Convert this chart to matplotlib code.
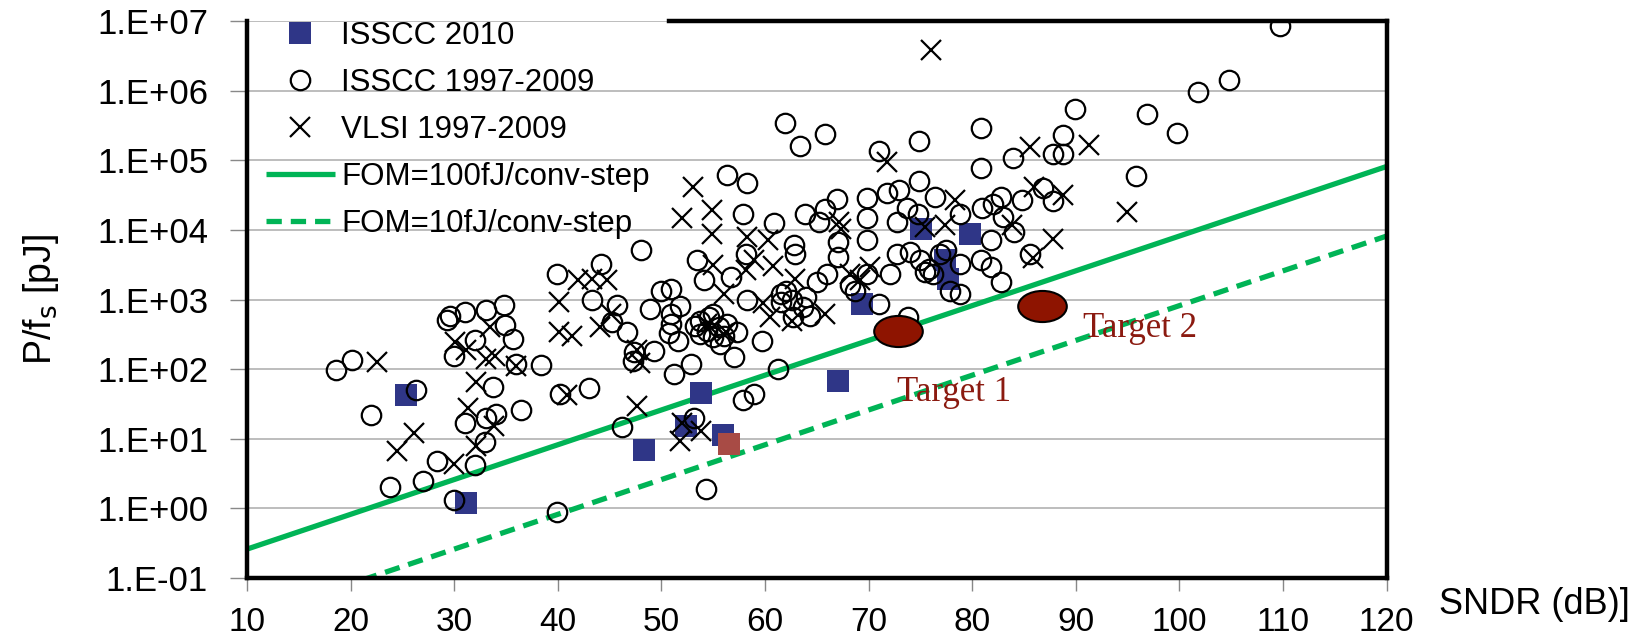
import numpy as np
import matplotlib
matplotlib.use("Agg")
import matplotlib.pyplot as plt
from matplotlib.path import Path
from matplotlib.transforms import Affine2D

plt.rcParams["font.family"] = ["Liberation Sans", "DejaVu Sans"]

# ── Data ──────────────────────────────────────────────────────────────────────
ISSCC2010_SNDR = [25.3, 31.1, 48.3, 53.8, 52.4, 55.9, 67.0, 69.4, 75.1, 79.8, 77.4, 77.7]
ISSCC2010_PFS = [43, 1.18, 6.9, 45, 15.4, 11.4, 68, 870, 10500, 8900, 3700, 2000]

HIGHLIGHT_SNDR = [56.5]
HIGHLIGHT_PFS = [8.4]

ISSCC_OLD_SNDR = [
    18.6, 20.1, 22.0, 23.8, 26.3, 27.0, 28.3, 29.3, 29.6, 30.0, 30.0, 31.0, 31.0,
    32.0, 32.0, 33.0, 33.1, 33.1, 33.7, 34.0, 34.8, 34.9, 35.7, 36.0, 36.4, 38.4,
    39.9, 39.9, 40.2, 43.0, 43.3, 44.2, 45.2, 45.7, 46.2, 46.7, 47.3, 47.4, 49.3,
    48.0, 48.9, 50.0, 50.9, 50.9, 50.9, 50.7, 51.8, 51.6, 52.9, 51.2, 53.1, 53.4,
    54.1, 53.7, 53.7, 54.4, 55.0, 55.0, 55.7, 56.7, 56.3, 57.0, 57.3, 57.9, 58.3,
    59.7, 56.3, 58.3, 54.3, 57.9, 58.9, 58.2, 61.3, 54.6, 55.6, 56.0, 53.2,
    61.9, 63.4, 65.8, 71.0, 74.9, 80.8, 80.8, 83.9, 88.8, 87.8, 88.8, 89.9, 96.9,
    99.8, 95.8, 101.8, 104.8, 109.7,
    60.9, 62.8, 63.9, 65.8, 66.9, 65.2, 67.0, 67.0, 69.8, 69.8, 69.8, 71.8, 72.9,
    74.9, 73.7, 72.7, 74.8, 76.4, 78.8, 80.9, 82.0, 82.8, 84.8, 86.8, 87.8, 83.0,
    84.0, 81.8, 80.8, 81.8, 82.8, 85.6, 78.8, 76.9, 75.8, 78.8, 72.1, 72.7, 74.0,
    69.8, 68.2, 65.0, 62.9, 61.5,
    66.0, 64.0, 62.0, 61.5, 62.6, 63.7, 62.7, 64.3, 68.7, 71.0, 73.8, 75.0, 75.4,
    76.2, 77.5, 77.9,
]
ISSCC_OLD_PFS = [
    97, 135, 22, 2.0, 51, 2.5, 4.8, 515, 575, 157, 1.3, 660, 17,
    265, 4.2, 9.0, 700, 20, 55, 23, 830, 430, 275, 117, 26, 115,
    0.9, 2350, 44, 53, 980, 3300, 475, 830, 14.8, 340, 130, 175, 183,
    5100, 740, 1350, 1440, 630, 450, 330, 800, 258, 120, 84, 20, 3700,
    1900, 500, 320, 360, 630, 290, 230, 2130, 450, 150, 340, 17000, 980,
    258, 62000, 47000, 1.9, 36, 44, 4600, 100, 560, 400, 300, 420,
    3.4e5, 1.6e5, 2.4e5, 1.35e5, 1.9e5, 2.9e5, 7.9e4, 1.1e5, 2.3e5, 1.24e5, 1.24e5, 5.5e5, 4.7e5,
    2.5e5, 5.9e4, 9.5e5, 1.45e6, 8.5e6,
    12500, 6000, 17000, 20000, 27500, 13000, 6700, 4100, 29000, 15000, 7100, 34000, 38000,
    50000, 21000, 13000, 17000, 30000, 17000, 21000, 24000, 30000, 27000, 40000, 26000, 15500,
    9300, 7100, 3700, 2950, 1800, 4600, 3300, 4600, 2800, 1200, 2350, 4600, 4900,
    2350, 1600, 1800, 4600, 1200,
    2350, 1100, 1350, 920, 980, 780, 560, 590, 1350, 870, 560, 3700, 2500,
    2350, 5100, 1350,
]

VLSI_SNDR = [
    22.5, 26.1, 24.5, 30.0, 32.1, 31.3, 33.8, 32.1, 40.9, 47.6, 51.8, 52.0, 53.8,
    47.6, 47.9, 53.0, 52.0, 54.9, 54.9, 55.0, 40.1, 40.1, 41.4, 41.9, 43.3, 44.7,
    44.1, 45.1, 30.1, 31.1, 33.5, 33.1, 33.9, 36.0, 56.0, 58.9, 58.3, 59.8, 54.4,
    56.2, 58.2, 60.3, 60.8, 62.9, 60.5, 62.6, 65.8, 67.1, 67.3, 68.2, 70.1, 69.2,
    71.8, 75.4, 77.4, 78.3, 83.8, 85.6, 91.3, 94.9, 88.8, 86.0, 87.8, 85.9, 76.0,
]
VLSI_PFS = [
    125, 12.3, 6.7, 4.3, 65, 28, 15.4, 7.9, 42, 30, 9.3, 17, 13,
    186, 122, 42000, 14700, 19400, 8900, 3100, 920, 340, 305, 1900, 2000, 1900,
    400, 620, 245, 186, 400, 141, 157, 113, 1200, 3700, 8000, 900, 450,
    340, 2650, 7100, 3000, 1950, 560, 500, 630, 13000, 10500, 2350, 2950, 1900,
    96000, 11000, 12000, 27000, 12000, 158000, 166000, 18000, 32000, 41000, 7500, 4000, 3.9e6,
]

# FOM reference lines, end points read at the plot edges
FOM100_SNDR = [10, 120]
FOM100_PFS = [0.26, 8.2e4]
FOM10_SNDR = [10, 120]
FOM10_PFS = [0.026, 8.2e3]

TARGET_SNDR = [72.8, 86.7]
TARGET_PFS = [360, 800]
TARGET_LABELS = ["Target 1", "Target 2"]
TARGET_LABEL_POS = [(78.2, 46), (96.2, 385)]

Y_TICKS = [1e-1, 1e0, 1e1, 1e2, 1e3, 1e4, 1e5, 1e6, 1e7]
Y_TICK_LABELS = ["1.E-01", "1.E+00", "1.E+01", "1.E+02", "1.E+03",
                 "1.E+04", "1.E+05", "1.E+06", "1.E+07"]
X_TICKS = [10, 20, 30, 40, 50, 60, 70, 80, 90, 100, 110, 120]

GREEN = "#00B456"
NAVY = "#2F3687"
BRICK = "#A84B45"
DARKRED = "#8E1400"

# ellipse marker for targets
ELLIPSE = Path.unit_circle().transformed(Affine2D().scale(1.0, 0.64))

# ── Figure ────────────────────────────────────────────────────────────────────
fig = plt.figure(figsize=(16.5, 6.41), dpi=100)
ax = fig.add_axes([0.1497, 0.0983, 0.6907, 0.8685])
ax.set_yscale("log")
ax.set_xlim(10, 120)
ax.set_ylim(1e-1, 1e7)

l100, = ax.plot(FOM100_SNDR, FOM100_PFS, color=GREEN, lw=3.8, zorder=2,
                solid_capstyle="butt", label="FOM=100fJ/conv-step")
l10, = ax.plot(FOM10_SNDR, FOM10_PFS, color=GREEN, lw=3.8, zorder=2,
               dashes=(2.9, 1.7), label="FOM=10fJ/conv-step")

sq, = ax.plot(ISSCC2010_SNDR, ISSCC2010_PFS, ls="none", marker="s", ms=16.5,
              mfc=NAVY, mec=NAVY, mew=0, zorder=3, label="ISSCC 2010")
ci, = ax.plot(ISSCC_OLD_SNDR, ISSCC_OLD_PFS, ls="none", marker="o", ms=14,
              mfc="none", mec="black", mew=1.6, zorder=4, label="ISSCC 1997-2009")
cr, = ax.plot(VLSI_SNDR, VLSI_PFS, ls="none", marker="x", ms=14,
              mec="black", mew=1.6, zorder=4, label="VLSI 1997-2009")
ax.plot(HIGHLIGHT_SNDR, HIGHLIGHT_PFS, ls="none", marker="s", ms=16.5,
        mfc=BRICK, mec=BRICK, mew=0, zorder=5)

ax.plot(TARGET_SNDR, TARGET_PFS, ls="none", marker=ELLIPSE, ms=35,
        mfc=DARKRED, mec="black", mew=1.5, zorder=6)
for lbl, (tx, ty) in zip(TARGET_LABELS, TARGET_LABEL_POS):
    ax.text(tx, ty, lbl, ha="center", va="center", fontsize=25,
            family=["Liberation Serif", "DejaVu Serif"], color="#8B1A10", zorder=7)

# grid, ticks, spines
ax.yaxis.grid(True, color="#B8B8B8", lw=1.3, zorder=0)
ax.set_axisbelow(True)
ax.set_yticks(Y_TICKS)
ax.set_yticklabels(Y_TICK_LABELS)
ax.minorticks_off()
ax.set_xticks(X_TICKS)
ax.tick_params(axis="y", direction="out", length=12, width=1, color="#888888",
               labelsize=25, pad=16)
ax.tick_params(axis="x", direction="out", length=9, width=1, color="#888888",
               labelsize=24, pad=12)

for side in ("left", "bottom", "right"):
    ax.spines[side].set_linewidth(3.2)
    ax.spines[side].set_color("black")
ax.spines["top"].set_visible(False)
ax.axhline(1e7, xmin=0.37, xmax=1.0, color="black", lw=3.2, clip_on=False,
           zorder=2.5, solid_capstyle="projecting")

ax.set_ylabel("P/f$_\\mathrm{s}$ [pJ]", fontsize=27, labelpad=26)
fig.text(1439 / 1650, 1 - 605 / 641, "SNDR (dB)]", fontsize=26,
         ha="left", va="center")

ax.legend(handles=[sq, ci, cr, l100, l10], loc="upper left",
          bbox_to_anchor=(0.0167, 1.0), frameon=False, fontsize=22.5,
          borderpad=0, borderaxespad=0, handlelength=2.2, handletextpad=0.2,
          labelspacing=0.54)

fig.savefig("out.png", dpi=100)
